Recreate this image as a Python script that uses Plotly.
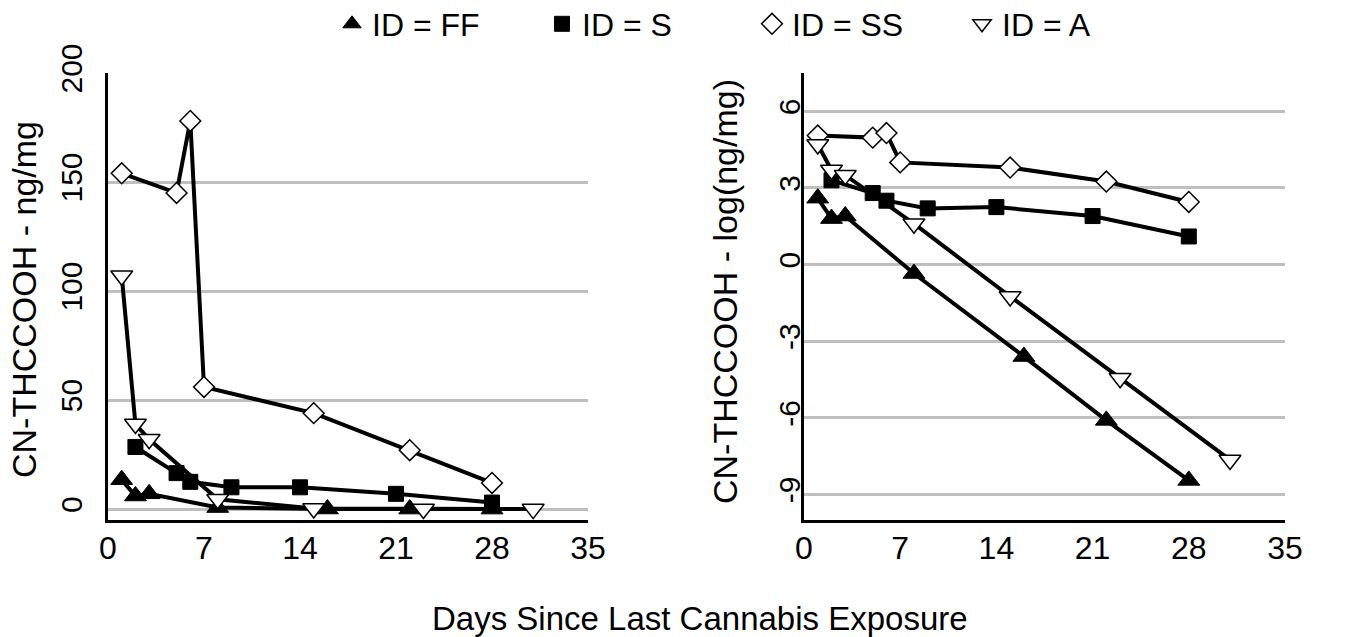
import plotly.graph_objects as go

# ---- data ----
ff_days = [1, 2, 3, 8, 16, 22, 28]
ff_raw = [13.5, 6.0, 7.0, 0.7, 0.03, 0.002, 0.0002]
ff_log = [2.6, 1.8, 1.9, -0.35, -3.6, -6.1, -8.45]

s_days = [2, 5, 6, 9, 14, 21, 28]
s_raw = [28.5, 16.5, 12.5, 10.0, 10.0, 7.0, 3.0]
s_log = [3.3, 2.8, 2.5, 2.2, 2.25, 1.9, 1.1]

ss_days = [1, 5, 6, 7, 15, 22, 28]
ss_raw = [154, 145, 178, 56, 44, 27, 12]
ss_log = [5.05, 4.97, 5.15, 4.0, 3.8, 3.25, 2.45]

a_days = [1, 2, 3, 8, 15, 23, 31]
a_raw = [107, 39, 32, 4.5, 0.3, 0.01, 0.0005]
a_log = [4.7, 3.7, 3.5, 1.6, -1.25, -4.45, -7.65]

legend_names = ["ID = FF", "ID = S", "ID = SS", "ID = A"]
x_ticks = [0, 7, 14, 21, 28, 35]
left_ticks = [0, 50, 100, 150, 200]
right_ticks = [-9, -6, -3, 0, 3, 6]
right_tick_text = ["-9", "-6", "-3", "0", "3", "6"]

FONT = "Liberation Sans, Arial, sans-serif"
series = [
    (ff_days, ff_raw, ff_log, dict(symbol="triangle-up", size=19, color="black",
                                    line=dict(color="black", width=1))),
    (s_days, s_raw, s_log, dict(symbol="square", size=15, color="black",
                                 line=dict(color="black", width=1))),
    (ss_days, ss_raw, ss_log, dict(symbol="diamond", size=16, color="white",
                                    line=dict(color="black", width=1.5))),
    (a_days, a_raw, a_log, dict(symbol="triangle-down", size=19, color="white",
                                 line=dict(color="black", width=1.5))),
]

fig = go.Figure()
for (days, raw, lg, mk), name in zip(series, legend_names):
    fig.add_trace(go.Scatter(x=days, y=raw, mode="lines+markers", marker=mk,
                             line=dict(color="black", width=4), showlegend=False,
                             xaxis="x", yaxis="y", cliponaxis=False))
    fig.add_trace(go.Scatter(x=days, y=lg, mode="lines+markers", marker=mk,
                             line=dict(color="black", width=4), showlegend=False,
                             xaxis="x2", yaxis="y2", cliponaxis=False))
for (days, raw, lg, mk), name in zip(series, legend_names):
    fig.add_trace(go.Scatter(x=[None], y=[None], mode="markers", marker=mk,
                             name=name, showlegend=True, xaxis="x", yaxis="y"))

W, H = 1357, 637
y_dom = [1 - 520 / H, 1 - 73 / H]
axis_common = dict(showline=True, linecolor="black", linewidth=3, ticks="",
                   zeroline=False, automargin=False)
xfont = dict(family=FONT, size=32, color="black")
yfont = dict(family=FONT, size=30, color="black")

fig.update_layout(
    width=W, height=H,
    margin=dict(l=0, r=0, t=0, b=0, autoexpand=False),
    paper_bgcolor="white", plot_bgcolor="white",
    font=dict(family=FONT, color="black"),
    xaxis=dict(domain=[108 / W, 588 / W], range=[0, 35], tickvals=x_ticks,
               showgrid=False, anchor="y", ticklabelstandoff=-2, tickfont=xfont,
               **axis_common),
    yaxis=dict(domain=y_dom, range=[-5, 200], tickvals=left_ticks, tickangle=-90,
               showgrid=True, gridcolor="#bfbfbf", gridwidth=3, anchor="x",
               ticklabelstandoff=11, tickfont=yfont, **axis_common),
    xaxis2=dict(domain=[804 / W, 1285 / W], range=[0, 35], tickvals=x_ticks,
                showgrid=False, anchor="y2", ticklabelstandoff=-2, tickfont=xfont,
                **axis_common),
    yaxis2=dict(domain=y_dom, range=[-10, 7.5], tickvals=right_ticks,
                ticktext=right_tick_text, tickangle=-90,
                showgrid=True, gridcolor="#bfbfbf", gridwidth=3, anchor="x2",
                ticklabelstandoff=-11, tickfont=yfont, **axis_common),
    legend=dict(orientation="h", x=332 / W, xanchor="left", y=1 - 24 / H,
                yanchor="middle",
                font=dict(family=FONT, size=32, color="black"),
                entrywidth=165, entrywidthmode="pixels", bgcolor="rgba(0,0,0,0)"),
    annotations=[
        dict(text="Days Since Last Cannabis Exposure", xref="paper", yref="paper",
             x=700 / W, y=1 - 618 / H, xanchor="center", yanchor="middle",
             showarrow=False, font=dict(family=FONT, size=33, color="black")),
        dict(text="CN-THCCOOH - ng/mg", xref="paper", yref="paper",
             x=24 / W, y=1 - 300 / H, xanchor="center", yanchor="middle", textangle=-90,
             showarrow=False, font=dict(family=FONT, size=34, color="black")),
        dict(text="CN-THCCOOH - log(ng/mg)", xref="paper", yref="paper",
             x=725 / W, y=1 - 292 / H, xanchor="center", yanchor="middle", textangle=-90,
             showarrow=False, font=dict(family=FONT, size=34, color="black")),
    ],
)

fig.write_html("out.html", config={"displayModeBar": False},
               post_script="document.body.style.margin='0px';")
